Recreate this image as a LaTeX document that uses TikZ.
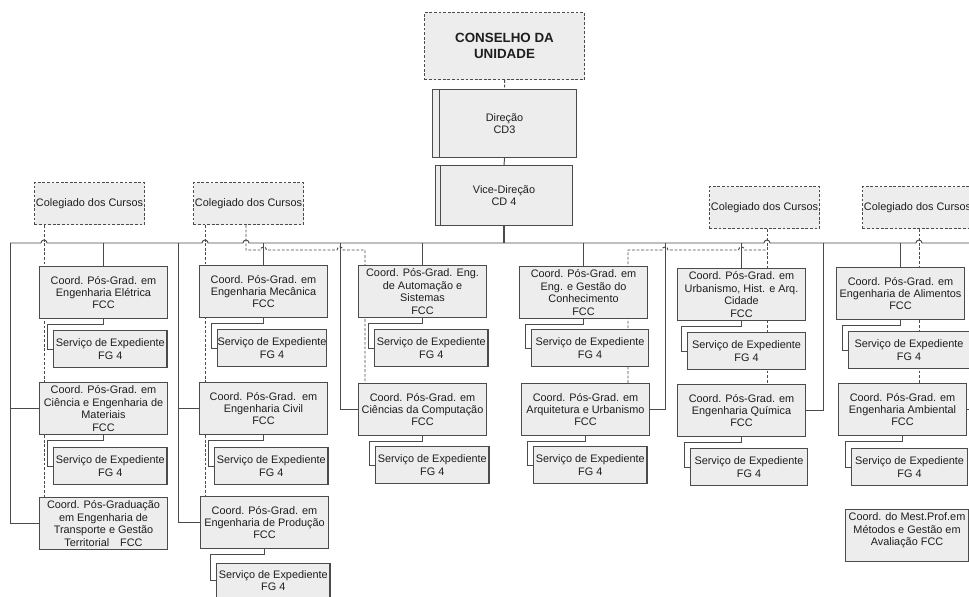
\documentclass[tikz,border=0pt]{standalone}
\usepackage{fontspec}
\setmainfont{Liberation Sans}
\usetikzlibrary{backgrounds}
\definecolor{boxgray}{RGB}{237,237,237}
\definecolor{linegray}{RGB}{75,75,75}
\definecolor{txtgray}{RGB}{30,30,30}
\tikzstyle{box} = [draw=linegray, fill=boxgray, text=txtgray, line width=0.6pt, inner sep=0pt, anchor=north west, align=center, font=\fontsize{6.2}{7.1}\selectfont]
\tikzstyle{coordbox} = [box, minimum width=2.56cm, minimum height=1.04cm]
\tikzstyle{servbox} = [box, minimum width=2.27cm, minimum height=0.74cm]
\tikzstyle{colbox} = [box, dash pattern=on 1.6pt off 1pt, minimum width=2.2cm, minimum height=0.84cm]
\tikzstyle{chefia} = [box, minimum width=2.88cm, minimum height=1.36cm]
\tikzstyle{conselho} = [box, dash pattern=on 1.6pt off 1pt, minimum width=3.2cm, minimum height=1.34cm, font=\fontsize{7.6}{8.9}\selectfont\bfseries]
\tikzstyle{link} = [draw=linegray, line width=0.55pt]
\tikzstyle{dlink} = [link, dash pattern=on 1.6pt off 1pt]
\newcommand{\curso}[2]{
node (#1) [coordbox] {#2}}
\newcommand{\servico}[1]{
node (s#1) [servbox] {Serviço de Expediente\\FG 4}}
\newcommand{\colegiado}[1]{
node (#1) [colbox] {Colegiado dos Cursos}}
\newcommand{\subline}[1]{
  \path [link] (#1.south) -- ++(0,5) -| ([xshift=-0.11cm]s#1.west) -- (s#1.west);}
\newcommand{\hop}{arc[start angle=180, end angle=0, radius=0.06cm]}

\begin{document}
\begin{tikzpicture}[x=0.02cm, y=-0.02cm]
		\useasboundingbox (0,0) rectangle (969,597);

		% bus and hop points
		\coordinate (busL) at (10,243);
		\coordinate (busR) at (985,243);
		\coordinate (d2) at (178,243);
		\coordinate (d3) at (340,243);
		\coordinate (d4) at (665,243);
		\coordinate (d5) at (823,243);
		\coordinate (d6) at (978,243);
		\coordinate (h1) at (44,243);
		\coordinate (h2) at (205,243);
		\coordinate (h3) at (246,243);
		\coordinate (h4) at (767,243);
		\coordinate (h5) at (919,243);
		\coordinate (j2) at (246,250);
		\coordinate (k2) at (365,250);
		\coordinate (j3) at (767,250);
		\coordinate (k3) at (628,250);

		% Top of the chart
		\path (424,12) node (cons) [conselho] {CONSELHO DA\\UNIDADE};
		\path (432,89) node (dir) [chefia] {Direção\\CD3};
		\path (435,165) node (vice) [chefia, minimum width=2.74cm, minimum height=1.2cm] {Vice-Direção\\CD 4};

		% Colegiados
		\path (34,182) \colegiado{c1};
		\path (193,182) \colegiado{c2};
		\path (709,186) \colegiado{c3};
		\path (862,186) \colegiado{c4};

		% Coordenacoes
		\path (39,266) \curso{elet}{Coord. Pós-Grad. em\\Engenharia Elétrica\\FCC};
		\path (53,330) \servico{elet};
		\path (39,382) \curso{cien}{Coord. Pós-Grad. em\\Ciência e Engenharia de\\Materiais\\FCC};
		\path (53,447) \servico{cien};
		\path (39,497) \curso{trans}{Coord. Pós-Graduação\\em Engenharia de\\Transporte e Gestão\\Territorial\quad FCC};

		\path (199,265) \curso{mec}{Coord. Pós-Grad. em\\Engenharia Mecânica\\FCC};
		\path (217,329) node (smec) [servbox, minimum width=2.12cm] {Serviço de Expediente\\FG 4};
		\path (199,382) \curso{civil}{Coord. Pós-Grad.\ \ em\\Engenharia Civil\\FCC};
		\path (214,447) \servico{civil};
		\path (200,496) \curso{prod}{Coord. Pós-Grad. em\\Engenharia de Produção\\FCC};
		\path (216,563) node (sprod) [servbox, minimum height=0.68cm] {Serviço de Expediente\\FG 4};

		\path (358,265) \curso{auto}{Coord. Pós-Grad. Eng.\\de Automação e\\Sistemas\\FCC};
		\path (374,329) \servico{auto};
		\path (358,383) \curso{comp}{Coord. Pós-Grad. em\\Ciências da Computação\\FCC};
		\path (375,446) \servico{comp};

		\path (519,266) \curso{gest}{Coord. Pós-Grad. em\\Eng. e Gestão do\\Conhecimento\\FCC};
		\path (531,329) node (sgest) [servbox, minimum width=2.34cm] {Serviço de Expediente\\FG 4};
		\path (521,383) \curso{arq}{Coord. Pós-Grad. em\\Arquitetura e Urbanismo\\FCC};
		\path (533,446) \servico{arq};

		\path (677,268) \curso{urb}{Coord. Pós-Grad. em\\Urbanismo, Hist. e Arq.\\Cidade\\FCC};
		\path (687,332) node (surb) [servbox, minimum width=2.36cm] {Serviço de Expediente\\FG 4};
		\path (677,384) \curso{quim}{Coord. Pós-Grad. em\\Engenharia Química\\FCC};
		\path (690,448) node (squim) [servbox, minimum width=2.34cm] {Serviço de Expediente\\FG 4};

		\path (836,267) \curso{alim}{Coord. Pós-Grad. em\\Engenharia de Alimentos\\FCC};
		\path (848,331) node (salim) [servbox, minimum width=2.42cm] {Serviço de Expediente\\FG 4};
		\path (838,383) \curso{amb}{Coord. Pós-Grad. em\\Engenharia Ambiental\\FCC};
		\path (851,448) node (samb) [servbox, minimum width=2.32cm] {Serviço de Expediente\\FG 4};
		\path (845,509) node (mest) [coordbox, minimum width=2.46cm] {Coord. do Mest.Prof.em\\Métodos e Gestão em\\Avaliação FCC\\\mbox{}};

		% double left edge of the direction boxes
		\draw [link] ([xshift=0.14cm]dir.north west) -- ([xshift=0.14cm]dir.south west);
		\draw [link] ([xshift=0.1cm]vice.north west) -- ([xshift=0.1cm]vice.south west);

		% Draw connectors between elements
		\begin{pgfonlayer}{background}
		\path [dlink] (cons.south) -- (dir.north);
		\path [link] (dir.south) -- (vice.north);
		\path [link, line width=1.1pt] (vice.south) -- (vice.south |- busL);
		\path [link] (busL) -- ([xshift=-0.06cm]h1) \hop -- ([xshift=-0.06cm]h2) \hop -- ([xshift=-0.06cm]h3) \hop
			-- ([xshift=-0.06cm]h4) \hop -- ([xshift=-0.06cm]h5) \hop -- (busR);

		\foreach \n in {elet,mec,auto,gest,urb,alim}
			\path [link] (\n.north) -- (\n.north |- busL);
		\foreach \n in {elet,cien,mec,civil,prod,auto,comp,gest,arq,urb,quim,alim,amb}
			\subline{\n};

		\path [link] (busL) |- (cien.west);
		\path [link] (busL) |- (trans.west);
		\path [link] (d2) |- (civil.west);
		\path [link] (d2) |- (prod.west);
		\path [link] (d3) |- (comp.west);
		\path [link] (d4) |- (arq.east);
		\path [link] (d5) |- (quim.east);
		\path [link] (d6) |- (amb.east);

		% dashed links of the colegiados
		\path [dlink] (c1.south -| h1) -- (trans.north -| h1);
		\path [dlink] (c2.south -| h2) -- (prod.north -| h2);
		\path [dlink] (c2.south -| h3) -- (j2) -- ([xshift=-0.06cm]mec.north |- j2) \hop
			-- ([xshift=-0.06cm]d3 |- j2) \hop -- (k2) -- (comp.north -| k2);
		\path [dlink] (c3.south -| h4) -- (quim.north -| h4);
		\path [dlink] (arq.north -| k3) -- (k3) -- ([xshift=-0.06cm]d4 |- k3) \hop
			-- ([xshift=-0.06cm]urb.north |- k3) \hop -- (j3);
		\path [dlink] (c4.south -| h5) -- (amb.north -| h5);
		\end{pgfonlayer}

	\end{tikzpicture}
\end{document}
